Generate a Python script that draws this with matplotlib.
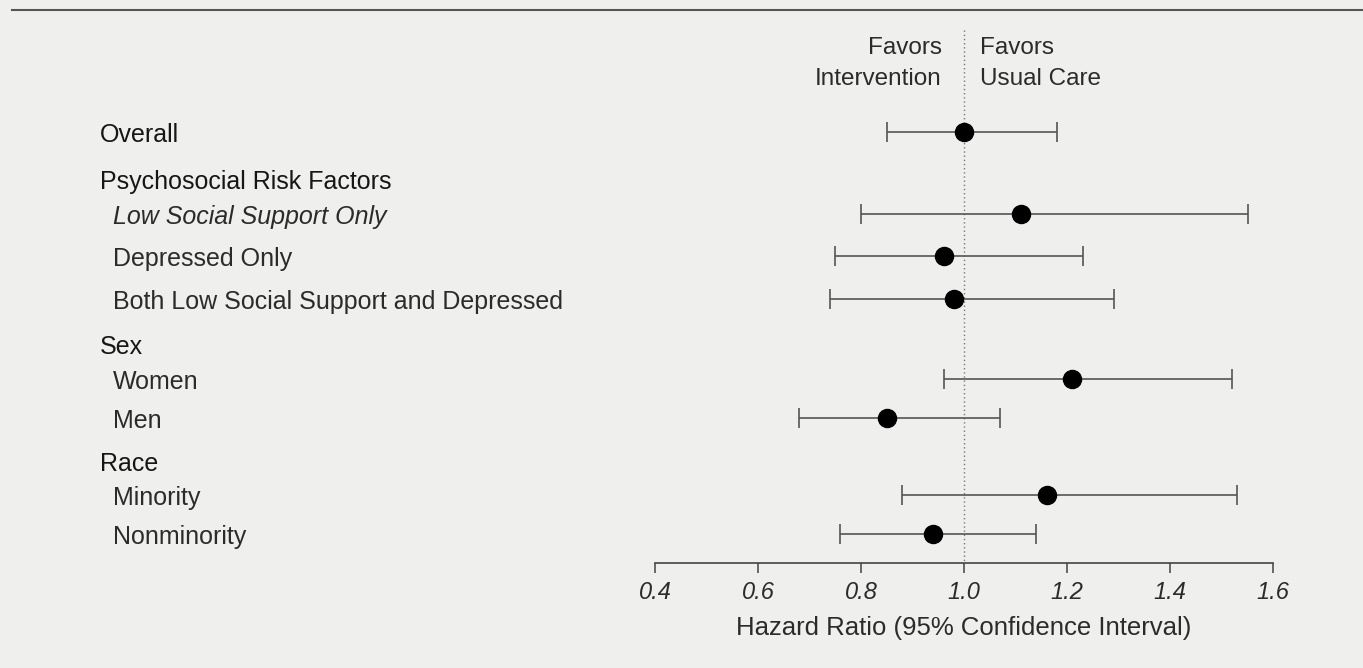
"""Forest plot: hazard ratios by subgroup."""

import matplotlib.pyplot as plt
from matplotlib.lines import Line2D
from matplotlib.transforms import blended_transform_factory

plt.rcParams['font.family'] = ['Liberation Sans', 'DejaVu Sans']

# ── data ───────────────────────────────────────────────────────────────────
labels = ["Overall",
          "Psychosocial Risk Factors",
          "Low Social Support Only",
          "Depressed Only",
          "Both Low Social Support and Depressed",
          "Sex", "Women", "Men",
          "Race", "Minority", "Nonminority"]
is_header = [True, True, False, False, False, True, False, False, True, False, False]
hr    = [1.00, None, 1.11, 0.96, 0.98, None, 1.21, 0.85, None, 1.16, 0.94]
ci_lo = [0.85, None, 0.80, 0.75, 0.74, None, 0.96, 0.68, None, 0.88, 0.76]
ci_hi = [1.18, None, 1.55, 1.23, 1.29, None, 1.52, 1.07, None, 1.53, 1.14]
xticks = [0.4, 0.6, 0.8, 1.0, 1.2, 1.4, 1.6]

# row positions in pixels from the top of the figure (layout)
label_y = [135, 182, 217, 259, 302, 347, 382, 421, 464, 498, 537]
point_dy = -3

W, H = 1363, 668
AX_Y = 562.7            # pixel row of the x axis line
X0, X1 = 655, 1273.3    # pixel columns of 0.4 and 1.6

BG = '#efefed'
INK = '#2b2b2b'
HEAD = '#161616'
BAR = '#555555'

fig = plt.figure(figsize=(W / 100, H / 100), dpi=100, facecolor=BG)
ax = fig.add_axes([X0 / W, (H - AX_Y) / H, (X1 - X0) / W, AX_Y / H])
ax.set_facecolor(BG)
ax.patch.set_alpha(0)
ax.set_xlim(0.4, 1.6)
ax.set_ylim(AX_Y, 0)

for s in ['top', 'right', 'left']:
    ax.spines[s].set_visible(False)
ax.spines['bottom'].set_color('#444444')
ax.spines['bottom'].set_linewidth(1.2)
ax.set_yticks([])
ax.set_xticks(xticks)
ax.set_xticklabels([f"{t:.1f}" for t in xticks], fontsize=17, style='italic', color=INK)
ax.tick_params(axis='x', direction='out', length=7, width=1.1, color='#444444', pad=6)
ax.set_xlabel("Hazard Ratio (95% Confidence Interval)", fontsize=18.5, color=INK, labelpad=9)

# reference line
ax.plot([1.0, 1.0], [30, AX_Y], linestyle=(0, (1, 2)), color='#777777', linewidth=1, zorder=1)

# estimates with CIs
for i in range(len(labels)):
    if hr[i] is None:
        continue
    y = label_y[i] + point_dy
    ax.errorbar(hr[i], y, xerr=[[hr[i] - ci_lo[i]], [ci_hi[i] - hr[i]]],
                fmt='o', color='black', markersize=13,
                ecolor=BAR, elinewidth=1.2, capsize=7.5, capthick=1.2, zorder=3)

# row labels
trans = blended_transform_factory(fig.transFigure, ax.transData)
for i, lab in enumerate(labels):
    x = 100 if is_header[i] else 113
    st = 'italic' if lab == "Low Social Support Only" else 'normal'
    ax.text(x / W, label_y[i], lab, transform=trans, fontsize=18, style=st,
            color=HEAD if is_header[i] else INK, ha='left', va='center', clip_on=False)

# direction labels
ax.text(0.957, 48, "Favors", ha='right', va='center', fontsize=17.5, color=INK)
ax.text(0.957, 79, "Intervention", ha='right', va='center', fontsize=17.5, color=INK)
ax.text(1.03, 48, "Favors", ha='left', va='center', fontsize=17.5, color=INK)
ax.text(1.03, 79, "Usual Care", ha='left', va='center', fontsize=17.5, color=INK)

# top rule
fig.add_artist(Line2D([12 / W, 1.0], [1 - 9.5 / H, 1 - 9.5 / H],
                      transform=fig.transFigure, color='#555555', linewidth=1.5))

fig.savefig("out.png", dpi=100, facecolor=BG)
